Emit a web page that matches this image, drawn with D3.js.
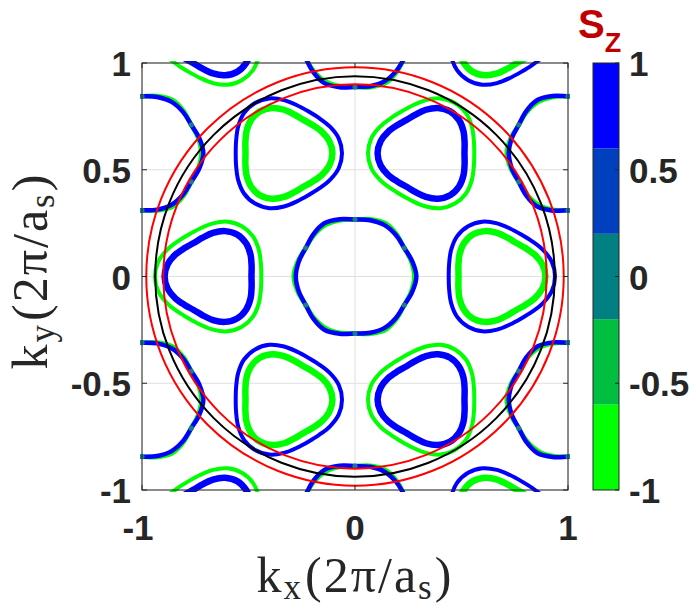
<html>
<head>
  <script src="https://d3js.org/d3.v7.min.js"></script>
  <style>
    body { margin: 0; background: #fff; }
    svg { display: block; }
    .tl { font-family: "Liberation Sans", Arial, sans-serif; font-weight: bold; font-size: 35px; fill: #262626; }
    .lab { font-family: "Liberation Serif", "Times New Roman", serif; font-size: 50px; fill: #262626; }
  </style>
</head>
<body>
  <svg id="chart" width="696" height="609"></svg>
<script>
  // ticks
  var xTicks = [-1, 0, 1];
  var yTicks = [-1, -0.5, 0, 0.5, 1];
  var cbTicks = [-1, -0.5, 0, 0.5, 1];
  var cbColors = ["#00FF00", "#00BF40", "#008080", "#0040BF", "#0000FF"]; // from Sz=-1 up to Sz=1

  // pocket contours: radius (2pi/a_s) at every 15 deg around the pocket centre, starting at +x
  var angles = d3.range(0, 360, 15);
  var outerR = [0.272, 0.266, 0.249, 0.233, 0.227, 0.233, 0.249, 0.266,
                0.272, 0.266, 0.249, 0.233, 0.227, 0.233, 0.249, 0.266,
                0.272, 0.266, 0.249, 0.233, 0.227, 0.233, 0.249, 0.266];
  var innerR = [0.227, 0.220, 0.204, 0.188, 0.181, 0.188, 0.204, 0.220,
                0.227, 0.220, 0.204, 0.188, 0.181, 0.188, 0.204, 0.220,
                0.227, 0.220, 0.204, 0.188, 0.181, 0.188, 0.204, 0.220];
  var gammaBlueR = [0.288, 0.278, 0.267, 0.273, 0.278, 0.273, 0.267, 0.278,
                    0.288, 0.278, 0.267, 0.273, 0.278, 0.273, 0.267, 0.278,
                    0.288, 0.278, 0.267, 0.273, 0.278, 0.273, 0.267, 0.278];
  var gammaGreenR = [0.278, 0.273, 0.267, 0.278, 0.288, 0.278, 0.267, 0.273,
                     0.278, 0.273, 0.267, 0.278, 0.288, 0.278, 0.267, 0.273,
                     0.278, 0.273, 0.267, 0.278, 0.288, 0.278, 0.267, 0.273];
  // angles (deg) where the two spin contours of a hexagonal pocket meet (mixed Sz ~ 0)
  var mixAngles = [30, 90, 150, 210, 270, 330];
  var mixR = 0.267;

  // pocket centres
  var gammaCenters = [[0, 0], [0, 1.155], [0, -1.155], [1, 0.577], [1, -0.577], [-1, 0.577], [-1, -0.577]];
  var kCenters = [[0.667, 0], [-0.333, 0.577], [-0.333, -0.577], [0.667, 1.155], [0.667, -1.155]];
  var kpCenters = [[-0.667, 0], [0.333, 0.577], [0.333, -0.577], [-0.667, 1.155], [-0.667, -1.155]];

  // reference circles
  var circleR = [0.98, 0.938, 0.90];
  var circleColors = ["#FF0000", "#000000", "#FF0000"];

  var svg = d3.select("#chart");
  var pL = 142, pR = 568, pT = 63, pB = 490;

  var x = d3.scaleLinear().domain([-1, 1]).range([pL, pR]);
  var y = d3.scaleLinear().domain([-1, 1]).range([pB, pT]);

  svg.append("defs").append("clipPath").attr("id", "clip")
    .append("rect").attr("x", pL - 2).attr("y", pT - 2)
    .attr("width", pR - pL + 4).attr("height", pB - pT + 4);

  // grid
  var grid = svg.append("g").attr("stroke", "#dfdfdf").attr("stroke-width", 1);
  xTicks.forEach(function(t) {
    grid.append("line").attr("x1", x(t)).attr("x2", x(t)).attr("y1", pT).attr("y2", pB);
  });
  yTicks.forEach(function(t) {
    grid.append("line").attr("x1", pL).attr("x2", pR).attr("y1", y(t)).attr("y2", y(t));
  });

  var plot = svg.append("g").attr("clip-path", "url(#clip)");

  var line = d3.line()
    .x(function(d) { return x(d[0]); })
    .y(function(d) { return y(d[1]); })
    .curve(d3.curveCatmullRomClosed);

  function pocket(c, radii, rot, color, width) {
    var pts = angles.map(function(a, i) {
      var t = (a + rot) * Math.PI / 180;
      return [c[0] + radii[i] * Math.cos(t), c[1] + radii[i] * Math.sin(t)];
    });
    plot.append("path").attr("d", line(pts))
      .attr("fill", "none").attr("stroke", color)
      .attr("stroke-width", width).attr("stroke-linejoin", "round");
  }

  gammaCenters.forEach(function(c) {
    pocket(c, gammaGreenR, 0, "#00FF00", 4.5);
    pocket(c, gammaBlueR, 0, "#0000FF", 4.5);
    mixAngles.forEach(function(a) {
      var t = a * Math.PI / 180;
      plot.append("circle")
        .attr("cx", x(c[0] + mixR * Math.cos(t))).attr("cy", y(c[1] + mixR * Math.sin(t)))
        .attr("r", 2.6).attr("fill", "#1f8f7a").attr("opacity", 0.85);
    });
  });
  kCenters.forEach(function(c) {
    pocket(c, outerR, 0, "#0000FF", 4);
    pocket(c, innerR, 0, "#00FF00", 6.5);
  });
  kpCenters.forEach(function(c) {
    pocket(c, outerR, 180, "#00FF00", 4);
    pocket(c, innerR, 180, "#0000FF", 6.5);
  });

  // circles
  circleR.forEach(function(r, i) {
    plot.append("ellipse").attr("cx", x(0)).attr("cy", y(0))
      .attr("rx", x(r) - x(0)).attr("ry", y(0) - y(r))
      .attr("fill", "none").attr("stroke", circleColors[i]).attr("stroke-width", 2);
  });

  // axes box + inward ticks
  var ax = svg.append("g").attr("stroke", "#262626").attr("stroke-width", 1);
  ax.append("rect").attr("x", pL).attr("y", pT)
    .attr("width", pR - pL).attr("height", pB - pT).attr("fill", "none");
  xTicks.forEach(function(t) {
    ax.append("line").attr("x1", x(t)).attr("x2", x(t)).attr("y1", pB).attr("y2", pB - 5);
    ax.append("line").attr("x1", x(t)).attr("x2", x(t)).attr("y1", pT).attr("y2", pT + 5);
  });
  yTicks.forEach(function(t) {
    ax.append("line").attr("x1", pL).attr("x2", pL + 5).attr("y1", y(t)).attr("y2", y(t));
    ax.append("line").attr("x1", pR).attr("x2", pR - 5).attr("y1", y(t)).attr("y2", y(t));
  });

  svg.selectAll(".xt").data(xTicks).enter().append("text")
    .attr("class", "tl").attr("x", function(d) { return x(d) - (d < 0 ? 4 : 0); }).attr("y", 540)
    .attr("text-anchor", "middle").text(function(d) { return d; });
  svg.selectAll(".yt").data(yTicks).enter().append("text")
    .attr("class", "tl").attr("x", 131).attr("y", function(d) { return y(d) + 13; })
    .attr("text-anchor", "end").text(function(d) { return d; });

  // axis labels
  function mathLabel(g, sub) {
    g.append("tspan").text("k");
    g.append("tspan").attr("font-size", "35px").attr("dy", 7).text(sub);
    g.append("tspan").attr("dy", -7).attr("dx", 2).text("(2π/a");
    g.append("tspan").attr("font-size", "35px").attr("dy", 7).text("s");
    g.append("tspan").attr("dy", -7).attr("dx", 1).text(")");
  }
  var xl = svg.append("text").attr("class", "lab").attr("x", x(0)).attr("y", 592)
    .attr("text-anchor", "middle").attr("letter-spacing", 2);
  mathLabel(xl, "x");

  var yl = svg.append("text").attr("class", "lab").attr("letter-spacing", 2)
    .attr("transform", "translate(47,271) rotate(-90)").attr("text-anchor", "middle");
  mathLabel(yl, "y");

  // colorbar
  var cbX = 593, cbW = 26;
  var cbY = d3.scaleLinear().domain([-1, 1]).range([pB, pT]);
  var cb = svg.append("g");
  cbColors.forEach(function(col, i) {
    var lo = -1 + i * 0.4, hi = lo + 0.4;
    cb.append("rect").attr("x", cbX).attr("y", cbY(hi)).attr("width", cbW)
      .attr("height", cbY(lo) - cbY(hi)).attr("fill", col);
  });
  cb.append("rect").attr("x", cbX).attr("y", pT).attr("width", cbW).attr("height", pB - pT)
    .attr("fill", "none").attr("stroke", "#262626");
  cbTicks.forEach(function(t) {
    cb.append("line").attr("x1", cbX + cbW).attr("x2", cbX + cbW - 4)
      .attr("y1", cbY(t)).attr("y2", cbY(t)).attr("stroke", "#262626");
  });
  svg.selectAll(".ct").data(cbTicks).enter().append("text")
    .attr("class", "tl").attr("x", 629).attr("y", function(d) { return cbY(d) + 13; })
    .text(function(d) { return d; });

  var title = svg.append("text").attr("x", 578).attr("y", 38)
    .attr("font-family", "Liberation Sans, Arial, sans-serif").attr("font-weight", "bold")
    .attr("fill", "#C00000").attr("font-size", "40px");
  title.append("tspan").text("S");
  title.append("tspan").attr("font-size", "27px").attr("dy", 14).text("Z");
</script>
</body>
</html>
